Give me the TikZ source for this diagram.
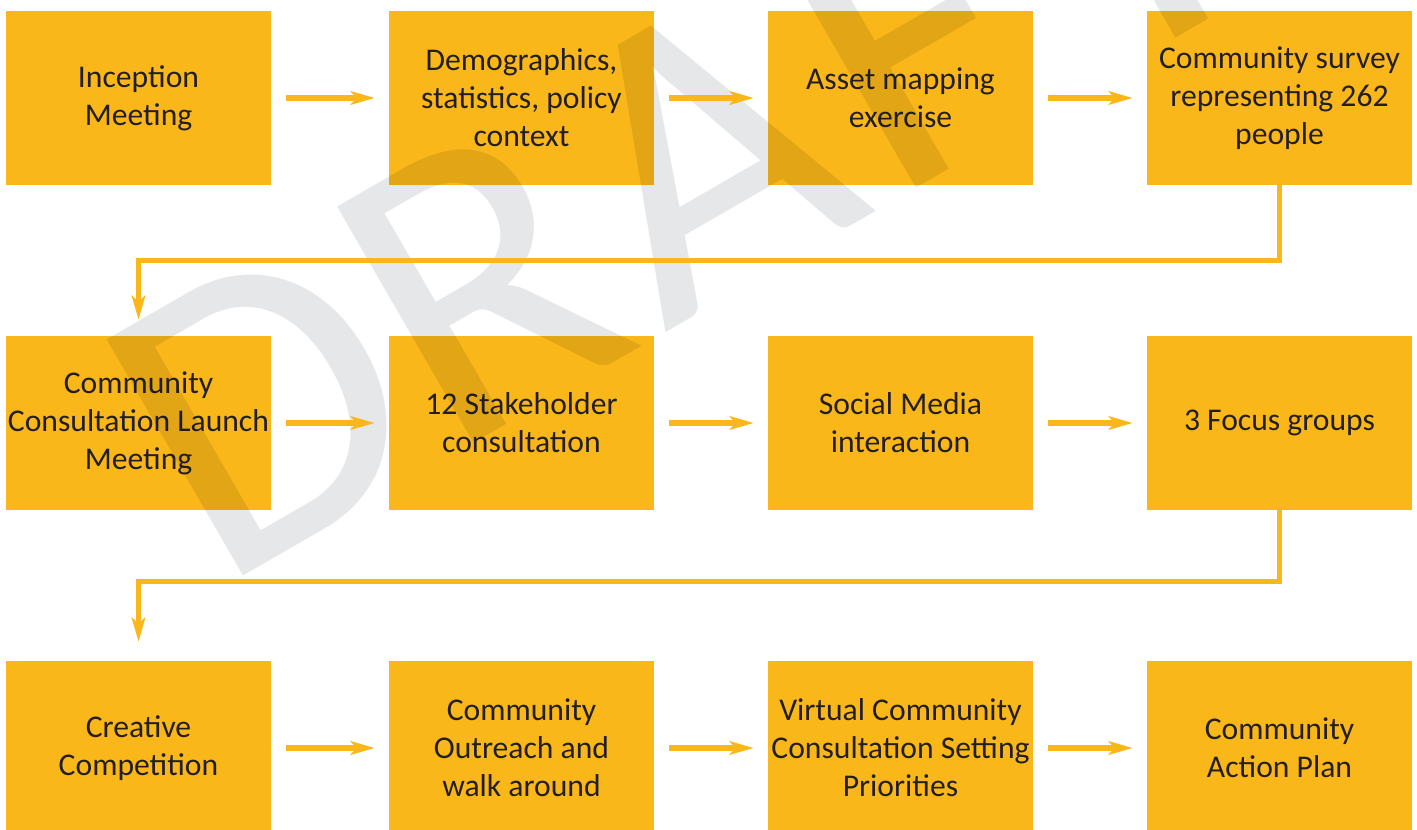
\documentclass[tikz,border=0pt]{standalone}
\usepackage{fontspec}
\setmainfont{Carlito}
\usetikzlibrary{arrows.meta}
\definecolor{boxorange}{RGB}{250,183,25}
\definecolor{boxtext}{RGB}{35,31,32}
\definecolor{draftgrey}{RGB}{230,231,232}

\begin{document}
\begin{tikzpicture}[x=0.02cm, y=0.02cm,
	stage/.style={fill=boxorange, text=boxtext, minimum width=5.3cm, minimum height=3.48cm, inner sep=0pt, align=center, font=\fontsize{18}{21.6}\selectfont},
	flow/.style={draw=boxorange, line width=0.11cm, -{Stealth[length=0.48cm, width=0.27cm, inset=0.12cm]}}]
		\useasboundingbox (0,0) rectangle (1417,830);
		\node[stage] (inception) at (138.5,732) {Inception\\Meeting};
		\node[stage] (demographics) at (521.5,732) {Demographics,\\statistics, policy\\context};
		\node[stage] (asset) at (900.5,732) {Asset mapping\\exercise};
		\node[stage] (survey) at (1279.5,732) {Community survey\\representing 262\\people};
		\node[stage] (launch) at (138.5,407) {Community\\Consultation Launch\\Meeting};
		\node[stage] (stakeholder) at (521.5,407) {12 Stakeholder\\consultation};
		\node[stage] (social) at (900.5,407) {Social Media\\interaction};
		\node[stage] (focus) at (1279.5,407) {3 Focus groups};
		\node[stage] (creative) at (138.5,82) {Creative\\Competition};
		\node[stage] (outreach) at (521.5,82) {Community\\Outreach and\\walk around};
		\node[stage] (virtual) at (900.5,82) {Virtual Community\\Consultation Setting\\Priorities};
		\node[stage] (plan) at (1279.5,82) {Community\\Action Plan};
		% watermark
		\node[font=\fontsize{242}{242}\selectfont, text=draftgrey, rotate=30, anchor=base west, inner sep=0pt, blend mode=multiply] (draft) at (218,239) {D\kern2pt R\kern11pt A\kern9pt F\kern28pt T};
		\path[flow, shorten <=0.3cm, shorten >=0.28cm]
		(inception) edge (demographics)
		(demographics) edge (asset)
		(asset) edge (survey)
		(launch) edge (stakeholder)
		(stakeholder) edge (social)
		(social) edge (focus)
		(creative) edge (outreach)
		(outreach) edge (virtual)
		(virtual) edge (plan);
		\draw[flow, shorten >=0.32cm] (survey.south) -- ++(0,-75) -| (launch.north);
		\draw[flow, shorten >=0.38cm] (focus.south) -- ++(0,-71) -| (creative.north);
\end{tikzpicture}
\end{document}
